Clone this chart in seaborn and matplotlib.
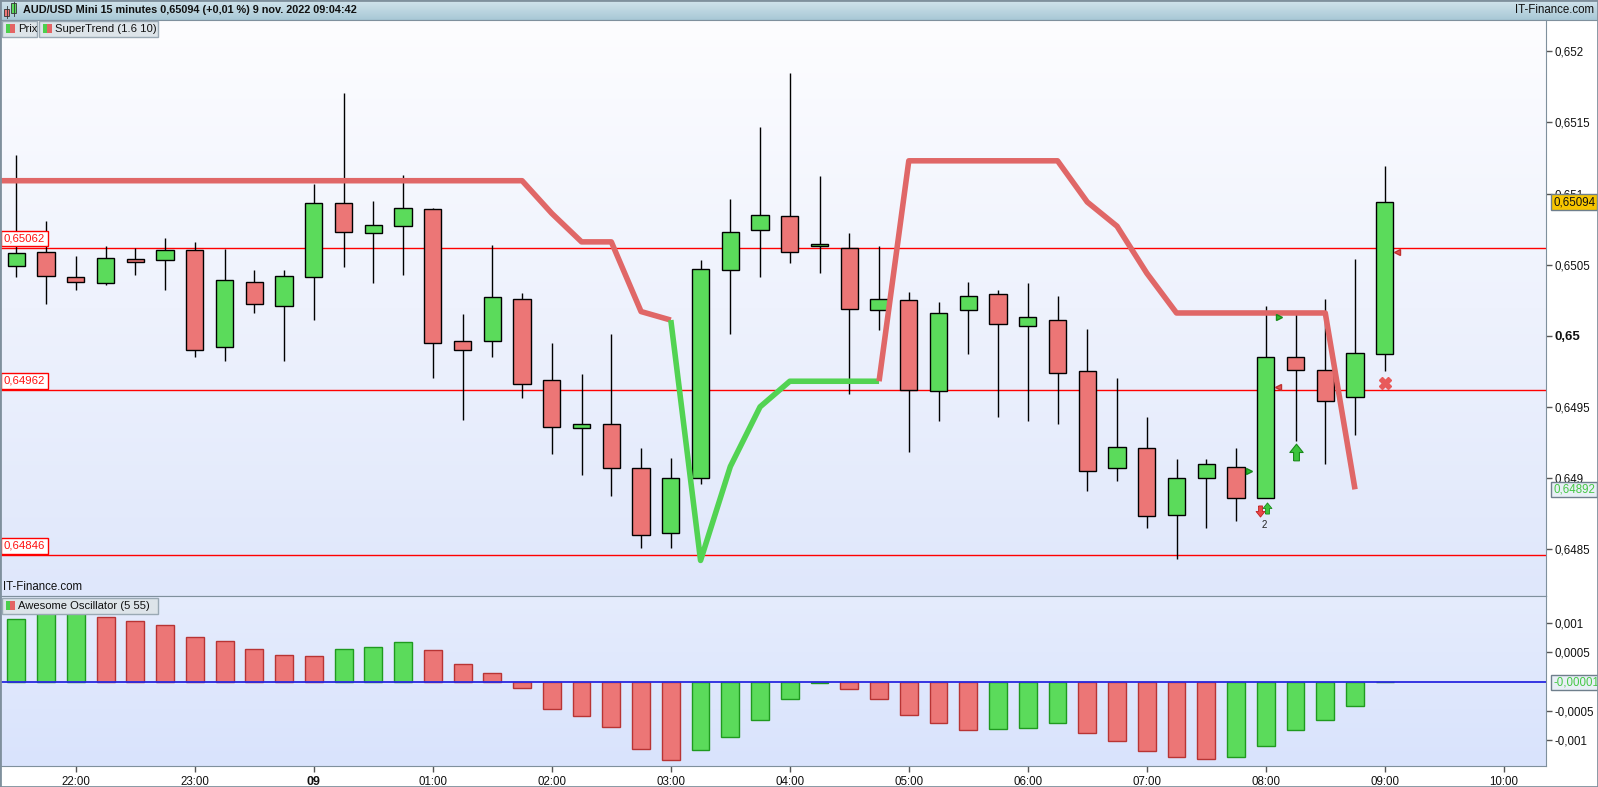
import numpy as np
import pandas as pd
import matplotlib
matplotlib.use("Agg")
import matplotlib.pyplot as plt
import seaborn as sns
from matplotlib.colors import LinearSegmentedColormap
from matplotlib.patches import Rectangle

plt.rcParams['font.family'] = ['Liberation Sans', 'DejaVu Sans']

# ---------------- data ----------------
times = ["21:30", "21:45", "22:00", "22:15", "22:30", "22:45", "23:00", "23:15", "23:30", "23:45",
         "00:00", "00:15", "00:30", "00:45", "01:00", "01:15", "01:30", "01:45", "02:00", "02:15",
         "02:30", "02:45", "03:00", "03:15", "03:30", "03:45", "04:00", "04:15", "04:30", "04:45",
         "05:00", "05:15", "05:30", "05:45", "06:00", "06:15", "06:30", "06:45", "07:00", "07:15",
         "07:30", "07:45", "08:00", "08:15", "08:30", "08:45", "09:00"]

opens = [0.65049, 0.65059, 0.65041, 0.65037, 0.65054, 0.65053, 0.65060, 0.64992, 0.65038, 0.65021,
         0.65041, 0.65093, 0.65072, 0.65077, 0.65089, 0.64996, 0.64996, 0.65026, 0.64969, 0.64935,
         0.64938, 0.64907, 0.64861, 0.64900, 0.65046, 0.65074, 0.65084, 0.65063, 0.65062, 0.65018,
         0.65025, 0.64961, 0.65018, 0.65029, 0.65007, 0.65011, 0.64975, 0.64907, 0.64921, 0.64874,
         0.64900, 0.64908, 0.64886, 0.64985, 0.64976, 0.64957, 0.64987]
highs = [0.65127, 0.65081, 0.65056, 0.65063, 0.65062, 0.65069, 0.65066, 0.65061, 0.65046, 0.65046,
         0.65107, 0.65171, 0.65095, 0.65113, 0.65090, 0.65015, 0.65064, 0.65030, 0.64995, 0.64973,
         0.65001, 0.64921, 0.64914, 0.65053, 0.65096, 0.65147, 0.65185, 0.65112, 0.65072, 0.65063,
         0.65031, 0.65024, 0.65038, 0.65032, 0.65037, 0.65028, 0.65005, 0.64970, 0.64943, 0.64913,
         0.64913, 0.64921, 0.65021, 0.65015, 0.65026, 0.65054, 0.65119]
lows = [0.65041, 0.65022, 0.65032, 0.65036, 0.65043, 0.65032, 0.64985, 0.64982, 0.65016, 0.64982,
        0.65011, 0.65048, 0.65037, 0.65043, 0.64970, 0.64941, 0.64985, 0.64956, 0.64917, 0.64902,
        0.64887, 0.64851, 0.64851, 0.64896, 0.65001, 0.65041, 0.65051, 0.65044, 0.64959, 0.65004,
        0.64918, 0.64940, 0.64987, 0.64943, 0.64940, 0.64938, 0.64891, 0.64898, 0.64865, 0.64843,
        0.64865, 0.64870, 0.64886, 0.64926, 0.64910, 0.64930, 0.64975]
closes = [0.65058, 0.65042, 0.65038, 0.65055, 0.65052, 0.65060, 0.64990, 0.65039, 0.65022, 0.65042,
          0.65093, 0.65073, 0.65078, 0.65090, 0.64995, 0.64990, 0.65027, 0.64966, 0.64936, 0.64938,
          0.64907, 0.64860, 0.64900, 0.65047, 0.65073, 0.65085, 0.65059, 0.65064, 0.65019, 0.65026,
          0.64962, 0.65016, 0.65028, 0.65008, 0.65013, 0.64974, 0.64905, 0.64922, 0.64873, 0.64900,
          0.64910, 0.64886, 0.64985, 0.64976, 0.64954, 0.64988, 0.65094]

supertrend = [0.65109] * 18 + [0.65086, 0.65066, 0.65066, 0.65017, 0.65011,
              0.64842, 0.64908, 0.64950, 0.64968, 0.64968, 0.64968, 0.64968,
              0.65123, 0.65123, 0.65123, 0.65123, 0.65123, 0.65123,
              0.65094, 0.65077, 0.65044, 0.65016, 0.65016, 0.65016, 0.65016,
              0.65016, 0.65016, 0.64892]
st_trend = ["down"] * 23 + ["up"] * 7 + ["down"] * 16 + ["up"]

ao_values = [0.00107, 0.00117, 0.00119, 0.00111, 0.00104, 0.00096, 0.00077, 0.00070, 0.00056, 0.00046,
             0.00044, 0.00056, 0.00059, 0.00068, 0.00054, 0.00030, 0.00015, -0.00011, -0.00046, -0.00059,
             -0.00078, -0.00115, -0.00133, -0.00116, -0.00094, -0.00065, -0.00030, -0.00003, -0.00013, -0.00029,
             -0.00056, -0.00070, -0.00082, -0.00080, -0.00079, -0.00071, -0.00087, -0.00101, -0.00118, -0.00128,
             -0.00131, -0.00128, -0.00109, -0.00082, -0.00065, -0.00042, -0.00001]
ao_dir = ["up", "up", "up", "down", "down", "down", "down", "down", "down", "down",
          "down", "up", "up", "up", "down", "down", "down", "down", "down", "down",
          "down", "down", "down", "up", "up", "up", "up", "up", "down", "down",
          "down", "down", "down", "up", "up", "up", "down", "down", "down", "down",
          "down", "up", "up", "up", "up", "up", "up"]

levels = [0.65062, 0.64962, 0.64846]
level_labels = ["0,65062", "0,64962", "0,64846"]

price_ticks = [0.6485, 0.649, 0.6495, 0.65, 0.6505, 0.651, 0.6515, 0.652]
price_tick_labels = ["0,6485", "0,649", "0,6495", "0,65", "0,6505", "0,651", "0,6515", "0,652"]
ao_ticks = [-0.001, -0.0005, 0.0005, 0.001]
ao_tick_labels = ["-0,001", "-0,0005", "0,0005", "0,001"]

hour_times = ["22:00", "23:00", "00:00", "01:00", "02:00", "03:00", "04:00", "05:00",
              "06:00", "07:00", "08:00", "09:00", "10:00"]
hour_labels = ["22:00", "23:00", "09", "01:00", "02:00", "03:00", "04:00", "05:00",
               "06:00", "07:00", "08:00", "09:00", "10:00"]

last_price = 0.65094
last_st = 0.64892
last_ao = -0.00001

# signal markers: (time, offset in slots, price, kind)
sig_times = ["07:45", "08:00", "08:00", "08:15", "09:00", "09:00"]
sig_offsets = [0.45, 0.42, 0.43, 0.0, 0.0, 0.40]
sig_prices = [0.64905, 0.64964, 0.65013, 0.64918, 0.64967, 0.65059]
sig_kinds = ["tri_right_g", "tri_left_r", "tri_right_g", "arrow_up_big", "cross", "tri_left_r"]

title = "AUD/USD Mini 15 minutes 0,65094 (+0,01 %) 9 nov. 2022 09:04:42"

# ---------------- helpers ----------------
def slot(t):
    h, m = map(int, t.split(":"))
    return (((h * 60 + m) - (21 * 60 + 30)) % 1440) / 15.0

W, H = 1598, 787
fig = plt.figure(figsize=(W / 100, H / 100), dpi=100)
fig.patch.set_facecolor("white")

def fx(p):
    return p / W

def fy(p):
    return 1 - p / H

GREEN = "#5bdb5b"
RED = "#ec7676"
ST_RED = "#e06767"
ST_GREEN = "#52d352"
SPINE = "#7f909d"
XMIN, XMAX = -0.55, 51.42

# ---------------- header ----------------
hax = fig.add_axes([0, fy(20), 1, 20 / H])
hcm = LinearSegmentedColormap.from_list("h", ["#d2e4ec", "#a8c8d6"])
hax.imshow(np.linspace(0, 1, 64).reshape(-1, 1), extent=[0, 1, 0, 1], cmap=hcm, aspect="auto")
hax.set_xlim(0, 1); hax.set_ylim(0, 1)
hax.set_xticks([]); hax.set_yticks([])
for s in hax.spines.values():
    s.set_color(SPINE)
hax.text(23 / W, 0.5, title, fontsize=7.85, fontweight="bold", va="center", ha="left", color="#111")
hax.text(1 - 4 / W, 0.5, "IT-Finance.com", fontsize=8.3, va="center", ha="right", color="#111")
# tiny candle icon
hax.add_patch(Rectangle((4 / W, 0.22), 5 / W, 0.35, fc=RED, ec="#333", lw=0.6))
hax.plot([6.5 / W, 6.5 / W], [0.1, 0.7], color="#333", lw=0.6)
hax.add_patch(Rectangle((11 / W, 0.35), 5 / W, 0.5, fc=GREEN, ec="#333", lw=0.6))
hax.plot([13.5 / W, 13.5 / W], [0.2, 0.95], color="#333", lw=0.6)

# ---------------- price panel ----------------
ax = fig.add_axes([0, fy(596), fx(1546), fy(20) - fy(596)])
bg = LinearSegmentedColormap.from_list("bg", ["#fdfdff", "#dfe7fb"])
ax.imshow(np.linspace(0, 1, 256).reshape(-1, 1), extent=[0, 1, 0, 1], transform=ax.transAxes,
          cmap=bg, aspect="auto", zorder=0)

x = np.arange(len(times))
o = np.array(opens); c = np.array(closes); hi = np.array(highs); lo = np.array(lows)
up = c >= o
ax.vlines(x, lo, hi, color="black", lw=1, zorder=3)
body_h = np.maximum(np.abs(c - o), 0.000012)
ax.bar(x, body_h, bottom=np.minimum(o, c), width=0.58,
       color=[GREEN if u else RED for u in up], edgecolor="black", lw=1, zorder=4)

# levels
for lv, lb in zip(levels, level_labels):
    ax.axhline(lv, color="#ff0000", lw=1, zorder=2)
    ax.annotate(lb, xy=(0, lv), xycoords=("axes fraction", "data"), xytext=(4, 4),
                textcoords="offset pixels", va="bottom", ha="left", color="#ff1010", fontsize=8.2,
                bbox=dict(boxstyle="square,pad=0.25", fc="white", ec="#ff0000", lw=1), zorder=6)

# supertrend
st = np.array(supertrend)
n = len(st)
i = 1
first = True
while i < n:
    j = i
    while j + 1 < n and st_trend[j + 1] == st_trend[i]:
        j += 1
    xs = list(x[i - 1:j + 1]); ys = list(st[i - 1:j + 1])
    if first:
        xs = [XMIN] + xs; ys = [ys[0]] + ys
        first = False
    ax.plot(xs, ys, color=ST_RED if st_trend[i] == "down" else ST_GREEN, lw=4,
            solid_joinstyle="round", solid_capstyle="butt", zorder=5)
    i = j + 1

# signals
up_arrow = [(-0.35, -1), (0.35, -1), (0.35, 0), (0.8, 0), (0, 1), (-0.8, 0), (-0.35, 0), (-0.35, -1)]
down_arrow = [(px, -py) for px, py in up_arrow]
for t, off, pr, kd in zip(sig_times, sig_offsets, sig_prices, sig_kinds):
    xx = slot(t) + off
    if kd == "tri_right_g":
        ax.plot(xx, pr, marker=">", ms=5, color="#2fbf2f", mec="#1a8a1a", zorder=7)
    elif kd == "tri_left_r":
        ax.plot(xx, pr, marker="<", ms=5, color="#e05555", mec="#c03030", zorder=7)
    elif kd == "arrow_up_big":
        ax.plot(xx, pr, marker=up_arrow, ms=12, color="#3cc43c", mec="#1a8a1a", mew=0.8, zorder=7)
    elif kd == "cross":
        ax.plot(xx, pr, marker="X", ms=9, color="#e85a5a", mec="#e85a5a", zorder=7)
# double arrow + count under the 08:00 candle
xa = slot("08:00")
ax.plot(xa - 0.2, 0.64877, marker=down_arrow, ms=8, color="#e84848", mec="#c02020", mew=0.6, zorder=7)
ax.plot(xa + 0.05, 0.64879, marker=up_arrow, ms=8, color="#3cc43c", mec="#1a8a1a", mew=0.6, zorder=7)
ax.text(xa - 0.05, 0.64867, "2", fontsize=7, ha="center", va="center", color="#222", zorder=7)

ax.set_xlim(XMIN, XMAX)
ax.set_ylim(0.64817, 0.65222)
ax.set_xticks([])
ax.yaxis.tick_right()
ax.set_yticks(price_ticks)
ax.set_yticklabels(price_tick_labels)
ax.tick_params(axis="y", direction="out", length=4, width=1, color="#555", labelsize=8.3, pad=2,
               labelcolor="#111")
for tl in ax.get_yticklabels():
    if tl.get_text() == "0,65":
        tl.set_fontweight("bold")
        tl.set_fontsize(9.5)
for s in ax.spines.values():
    s.set_color(SPINE)

ax.annotate("0,65094", xy=(1, last_price), xycoords=("axes fraction", "data"), xytext=(7, 0),
            textcoords="offset pixels", va="center", ha="left", fontsize=8.3, color="#111",
            bbox=dict(boxstyle="square,pad=0.15", fc="#f7c500", ec="#6f7f8c", lw=1),
            annotation_clip=False, zorder=10)
ax.annotate("0,64892", xy=(1, last_st), xycoords=("axes fraction", "data"), xytext=(7, 0),
            textcoords="offset pixels", va="center", ha="left", fontsize=8.3, color="#46c846",
            bbox=dict(boxstyle="square,pad=0.15", fc="#e8eff6", ec="#6f7f8c", lw=1),
            annotation_clip=False, zorder=10)

# legend boxes
def legbox(xpx, ypx, wpx, text):
    fig.patches.append(Rectangle((fx(xpx), fy(ypx + 16)), wpx / W, 16 / H, transform=fig.transFigure,
                                 fc="#dde4e9", ec="#9aa9b4", lw=1, zorder=20, figure=fig))
    fig.patches.append(Rectangle((fx(xpx + 4), fy(ypx + 12)), 4 / W, 9 / H, transform=fig.transFigure,
                                 fc="#4ccf4c", ec="none", zorder=21, figure=fig))
    fig.patches.append(Rectangle((fx(xpx + 8), fy(ypx + 12)), 5 / W, 9 / H, transform=fig.transFigure,
                                 fc="#e46464", ec="none", zorder=21, figure=fig))
    fig.text(fx(xpx + 16), fy(ypx + 8), text, fontsize=8.1, va="center", ha="left", color="#111", zorder=22)

legbox(2, 21, 35, "Prix")
legbox(39, 21, 119, "SuperTrend (1.6 10)")

ax.text(3 / 1546, 0.005, "IT-Finance.com", transform=ax.transAxes, fontsize=8.3, va="bottom",
        ha="left", color="#111", zorder=6)

# ---------------- AO panel ----------------
ax2 = fig.add_axes([0, fy(766), fx(1546), fy(596) - fy(766)])
bg2 = LinearSegmentedColormap.from_list("bg2", ["#e5ecfd", "#d9e3fc"])
ax2.imshow(np.linspace(0, 1, 256).reshape(-1, 1), extent=[0, 1, 0, 1], transform=ax2.transAxes,
           cmap=bg2, aspect="auto", zorder=0)
ao_df = pd.DataFrame({"slot": x, "ao": ao_values, "dir": ao_dir})
sns.barplot(data=ao_df, x="slot", y="ao", hue="dir", palette={"up": GREEN, "down": RED},
            dodge=False, width=0.6, errorbar=None, legend=False, saturation=1, ax=ax2, zorder=3)
for p in ax2.patches:
    fc = p.get_facecolor()
    p.set_edgecolor("#1f9a1f" if fc[1] > fc[0] else "#b83434")
    p.set_linewidth(1)
ax2.axhline(0, color="#2828e0", lw=1.3, zorder=4)
ax2.set_xlim(XMIN, XMAX)
ax2.set_ylim(-0.001436, 0.00146)
ax2.set_xlabel(""); ax2.set_ylabel("")
ax2.set_xticks([slot(t) for t in hour_times])
ax2.set_xticklabels(hour_labels)
ax2.tick_params(axis="x", direction="out", length=4, width=1, color="#555", labelsize=8.3, pad=3,
                labelcolor="#111")
for tl in ax2.get_xticklabels():
    if tl.get_text() == "09":
        tl.set_fontweight("bold")
        tl.set_fontsize(9)
ax2.yaxis.tick_right()
ax2.set_yticks(ao_ticks)
ax2.set_yticklabels(ao_tick_labels)
ax2.tick_params(axis="y", direction="out", length=4, width=1, color="#555", labelsize=8.3, pad=2,
                labelcolor="#111")
for s in ax2.spines.values():
    s.set_color(SPINE)
ax2.annotate("-0,00001", xy=(1, last_ao), xycoords=("axes fraction", "data"), xytext=(7, 0),
             textcoords="offset pixels", va="center", ha="left", fontsize=8.3, color="#46c846",
             bbox=dict(boxstyle="square,pad=0.15", fc="#e8eff6", ec="#6f7f8c", lw=1),
             annotation_clip=False, zorder=10)
legbox(2, 598, 156, "Awesome Oscillator (5 55)")

# outer frame
fig.patches.append(Rectangle((0, 0), 1, 1, transform=fig.transFigure, fc="none", ec=SPINE,
                             lw=2, zorder=30, figure=fig))

fig.savefig("out.png", dpi=100)
